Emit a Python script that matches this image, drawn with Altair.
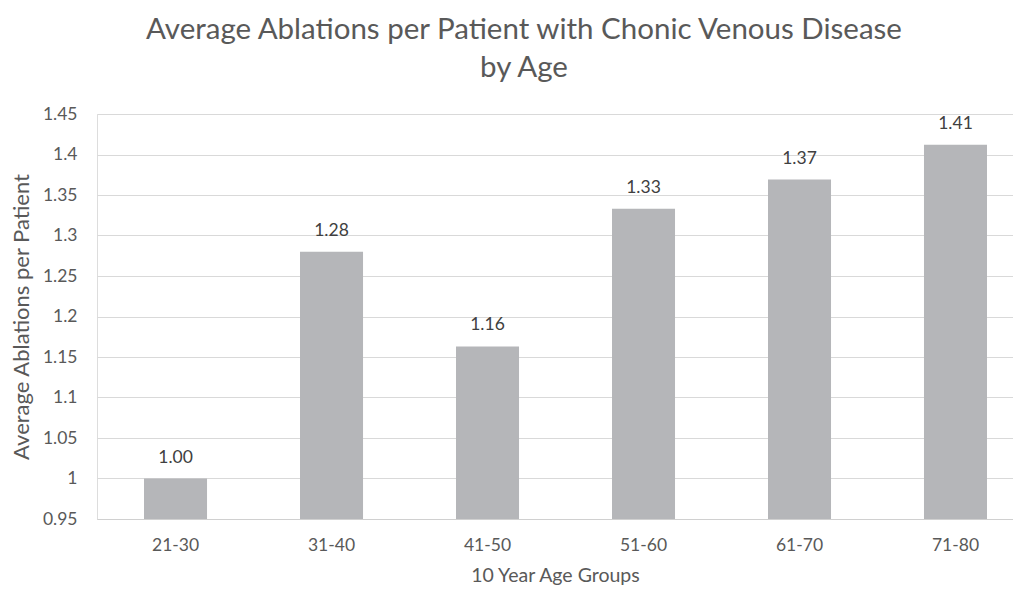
import altair as alt
import pandas as pd

groups = ["21-30", "31-40", "41-50", "51-60", "61-70", "71-80"]
values = [1.00, 1.28, 1.163, 1.333, 1.369, 1.412]
labels = ["1.00", "1.28", "1.16", "1.33", "1.37", "1.41"]

df = pd.DataFrame({"group": groups, "value": values, "label": labels})

FONT = "Lato"
GREY = "#595959"

x = alt.X("group:N", sort=groups,
          scale=alt.Scale(paddingInner=0.596, paddingOuter=0.234, align=0.644),
          axis=alt.Axis(title="10 Year Age Groups", labelAngle=0, ticks=False,
                        domainColor="#d0d0d0", labelPadding=17, titlePadding=13,
                        labelFontSize=17.5, titleFontSize=19.5,
                        labelColor=GREY, titleColor=GREY,
                        labelFont=FONT, titleFont=FONT, titleFontWeight="normal"))
y = alt.Y("value:Q",
          scale=alt.Scale(domain=[0.95, 1.45], nice=False, zero=False),
          axis=alt.Axis(title="Average Ablations per Patient",
                        values=[0.95, 1.0, 1.05, 1.1, 1.15, 1.2, 1.25, 1.3, 1.35, 1.4, 1.45],
                        labelExpr="format(datum.value, '.2~f')",
                        ticks=False, domain=False, gridColor="#d9d9d9",
                        labelPadding=20, titlePadding=9,
                        labelFontSize=17.5, titleFontSize=22,
                        labelColor=GREY, titleColor=GREY,
                        labelFont=FONT, titleFont=FONT, titleFontWeight="normal"))

bars = alt.Chart(df).mark_bar(color="#b5b6b9").encode(x=x, y=y, y2=alt.Y2(datum=0.95))

text = alt.Chart(df).mark_text(baseline="alphabetic", dy=-16, fontSize=17.5,
                                font=FONT, color="#404040").encode(
    x=alt.X("group:N", sort=groups), y="value:Q", text="label:N")

chart = (bars + text).properties(
    width=916, height=405,
    autosize=alt.AutoSizeParams(type="none"),
    padding={"left": 89, "top": 106, "right": 0, "bottom": 70},
    title=alt.TitleParams(
        text=["Average Ablations per Patient with Chonic Venous Disease", "by Age"],
        anchor="middle", dx=-31, offset=22, fontSize=29.5, lineHeight=38,
        font=FONT, fontWeight="normal", color=GREY),
).configure_view(stroke=None).configure(background="white")

chart.save("out.html", embed_options={"renderer": "svg", "actions": False})
